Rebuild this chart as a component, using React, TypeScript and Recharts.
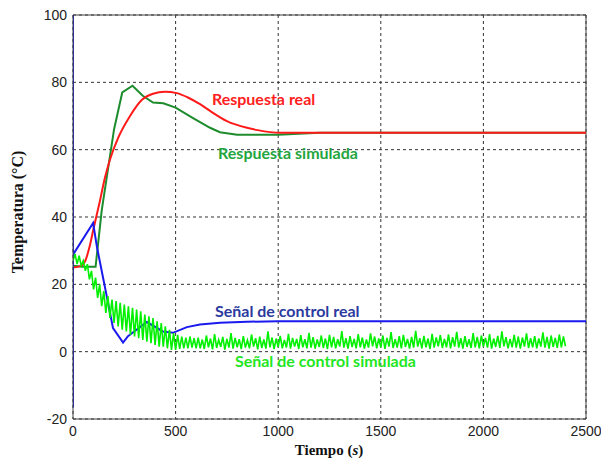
import { ComposedChart, Line, Scatter, XAxis, YAxis, CartesianGrid, ReferenceLine } from 'recharts';

// axis ticks
const xTicks = [0, 500, 1000, 1500, 2000, 2500];
const yTicks = [-20, 0, 20, 40, 60, 80, 100];

// Respuesta real (red)
const realT = [0, 40, 60, 80, 100, 132, 155, 180, 220, 278, 336, 390, 448, 506, 560, 619, 668, 750, 848, 900, 1008, 1200, 1500, 2500];
const realV = [25, 25.5, 27, 31, 36.5, 45, 51.5, 57, 63.5, 70, 74.8, 76.6, 77.2, 76.8, 75.5, 73.5, 71.5, 68.5, 66.5, 65.8, 65, 65, 65, 65];

// Respuesta simulada (dark green)
const simT = [0, 50, 110, 140, 180, 200, 240, 290, 340, 390, 440, 500, 585, 668, 716, 800, 1000, 1200, 2500];
const simV = [25.5, 25.2, 25.2, 42, 58, 66, 77, 79, 76, 74, 73.8, 72.5, 69.4, 66.5, 65.2, 64.4, 64.4, 65, 65];

// Señal de control real (blue)
const ctrlRealT = [0, 0, 0, 98, 117, 165, 195, 244, 268, 360, 438, 487, 555, 619, 716, 848, 1000, 2500];
const ctrlRealV = [-16.5, 100, 28.8, 38.2, 31, 16.3, 7, 2.7, 4.6, 8.8, 6, 5.6, 7.3, 8.1, 8.6, 8.9, 9, 9];

// Señal de control simulada (bright green), sampled every 10 s
const ctrlSimStep = 10;
const ctrlSimEarly = [
  27, 29, 26, 28.5, 25.5, 27, 24, 26, 21.5, 24,
  18.5, 22, 16, 20, 13.5, 18, 11.5, 16.5, 10, 15.5,
  8.5, 15, 7.5, 14.5, 6.5, 14, 6, 13.5, 5, 13,
  4.5, 12.5, 4, 12, 3.5, 11, 3, 10.5, 2.5, 10,
  2, 9, 1.5, 8.5, 1.5, 7.5, 1, 6.5, 0.5, 5.5,
  0.5, 5, 0.8, 4.5, 1, 4.2, 1, 4.5, 1.2, 4,
  1,
];
const ctrlSimLate = [
  4.2, 1, 3.6, 0.8, 4.8, 1.3, 3.9, 0.7, 5.2, 1.1, 3.5, 1.4, 4.4, 0.6, 3.8, 1.2, 5.5, 0.9, 4.1, 1.3,
  3.7, 0.8, 4.6, 1.2, 3.4, 1, 5.1, 1.5, 4, 0.7, 4.5, 1.1, 3.6, 0.9, 6, 1.3, 4.2, 0.8, 3.9, 1.4,
  4.7, 1, 3.5, 1.2, 5.3, 0.9, 4.1, 1.5, 3.8, 0.8, 4.9, 1.3, 3.7, 1, 5.6, 1.2, 4.3, 0.9, 3.6, 1.4,
  4.8, 1.1, 3.9, 0.8, 5, 1.3, 4.4, 1, 3.7, 1.5, 6.1, 1.2, 4, 0.9, 4.6, 1.4, 3.8, 1, 5.2, 1.3,
  4.2, 0.9, 3.6, 1.2, 5.4, 1.6, 4.5, 1, 3.9, 1.3, 4.8, 0.8, 4.1, 1.5, 5.8, 1.1, 3.7, 1.2, 4.6, 1,
  5, 1.4, 3.8, 0.9, 4.4, 1.2, 6.2, 1.5, 4, 1, 4.7, 1.3, 3.9, 0.8, 5.3, 1.2, 4.2, 1.6, 4.9, 1.1,
  3.8, 1.3, 5.1, 1, 4.3, 1.5, 5.9, 1.2, 4, 0.9, 4.6, 1.4, 3.7, 1.1, 5.5, 1.3, 4.4, 1, 4.8, 1.5,
  4.1, 1.2, 5.2, 0.9, 3.9, 1.4, 4.7, 1.1, 6, 1.6, 4.3, 1, 3.8, 1.3, 5, 1.2, 4.5, 0.9, 4.2, 1.5,
  5.4, 1.1, 4, 1.3, 4.6, 1, 3.9, 1.5, 5.7, 1.2, 4.4, 0.9, 4.8, 1.4, 4.1, 1.1, 5.1, 1.3, 4.5, 1.6,
];

// in-plot annotations (anchored at their left/baseline, in data units)
const noteText = ['Respuesta real', 'Respuesta simulada', 'Señal de control real', 'Señal de control simulada'];
const noteT = [677, 707, 692, 789];
const noteV = [73.3, 57.3, 10.4, -4.7];
const noteColors = ['#ff2020', '#22a53c', '#2b3a9e', '#22e622'];

const zip = (t: number[], v: number[]) => t.map((x, i) => ({ t: x, v: v[i] }));
const realData = zip(realT, realV);
const simData = zip(simT, simV);
const ctrlRealData = zip(ctrlRealT, ctrlRealV);
const ctrlSimData = [...ctrlSimEarly, ...ctrlSimLate].map((v, i) => ({ t: i * ctrlSimStep, v }));
const noteData = noteText.map((label, i) => ({ t: noteT[i], v: noteV[i], label, idx: i }));

const tickStyle = { fontFamily: 'Liberation Sans, Arial, sans-serif', fontSize: 14, fill: '#222' };

const NoteShape = (p: any) => (
  <text
    x={p.cx}
    y={p.cy}
    fill={noteColors[p.payload.idx]}
    fontFamily="Lato, 'Open Sans', sans-serif"
    fontWeight={700}
    fontSize={16}
  >
    {p.payload.label}
  </text>
);

export default function App() {
  return (
    <div style={{ position: 'absolute', left: 0, top: 0, width: 601, height: 464, background: '#fff' }}>
      <ComposedChart width={601} height={464} margin={{ top: 15, right: 15, bottom: 15, left: 33 }}>
        <CartesianGrid stroke="#333" strokeDasharray="3 3" />
        <XAxis
          type="number"
          dataKey="t"
          domain={[0, 2500]}
          ticks={xTicks}
          height={30}
          tickSize={0}
          tickMargin={7}
          tick={tickStyle}
          stroke="#404040"
          allowDataOverflow
        />
        <YAxis
          type="number"
          dataKey="v"
          domain={[-20, 100]}
          ticks={yTicks}
          width={40}
          tickSize={0}
          tickMargin={6}
          tick={tickStyle}
          stroke="#404040"
          allowDataOverflow
        />
        <ReferenceLine y={100} stroke="#404040" />
        <ReferenceLine x={2500} stroke="#404040" />
        <Line data={simData} dataKey="v" stroke="#1c8c2c" strokeWidth={2} dot={false} type="linear" isAnimationActive={false} />
        <Line data={realData} dataKey="v" stroke="#ff1a1a" strokeWidth={2} dot={false} type="monotone" isAnimationActive={false} />
        <Line data={ctrlRealData} dataKey="v" stroke="#1a1aee" strokeWidth={2} dot={false} type="linear" isAnimationActive={false} />
        <Line data={ctrlSimData} dataKey="v" stroke="#00f000" strokeWidth={1.6} dot={false} type="linear" isAnimationActive={false} />
        <Scatter data={noteData} dataKey="v" shape={NoteShape} isAnimationActive={false} />
      </ComposedChart>
      <svg width={601} height={464} style={{ position: 'absolute', left: 0, top: 0, pointerEvents: 'none' }}>
        <text
          x={329}
          y={455}
          textAnchor="middle"
          fontFamily="Liberation Serif, 'Times New Roman', serif"
          fontWeight={700}
          fontSize={15}
          fill="#111"
        >
          Tiempo (<tspan fontStyle="italic">s</tspan>)
        </text>
        <text
          transform="translate(23,212) rotate(-90)"
          textAnchor="middle"
          fontFamily="Liberation Serif, 'Times New Roman', serif"
          fontWeight={700}
          fontSize={16}
          fill="#111"
        >
          Temperatura (°C)
        </text>
      </svg>
    </div>
  );
}
